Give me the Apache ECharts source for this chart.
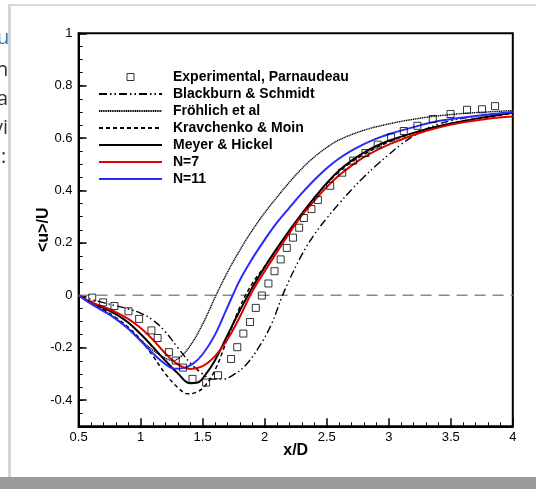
<!DOCTYPE html>
<html>
<head>
<meta charset="utf-8">
<script src="https://cdn.jsdelivr.net/npm/echarts@6/dist/echarts.min.js"></script>
<style>
html,body{margin:0;padding:0;background:#fff;}
#chart{width:536px;height:489px;}
</style>
</head>
<body>
<div id="chart"></div>
<script>
// ---- data (x/D, <u>/U) ----
const xTicks = [0.5, 1, 1.5, 2, 2.5, 3, 3.5, 4];
const yTicks = [-0.4, -0.2, 0, 0.2, 0.4, 0.6, 0.8, 1];

const experimental = [
  [0.61,-0.009],[0.698,-0.027],[0.789,-0.041],[0.902,-0.061],[0.988,-0.090],[1.087,-0.134],
  [1.137,-0.163],[1.228,-0.217],[1.283,-0.249],[1.341,-0.276],[1.418,-0.319],[1.528,-0.333],
  [1.624,-0.305],[1.729,-0.243],[1.779,-0.198],[1.828,-0.146],[1.881,-0.102],[1.928,-0.048],
  [1.977,-0.001],[2.030,0.045],[2.079,0.092],[2.129,0.137],[2.178,0.181],[2.228,0.220],
  [2.278,0.258],[2.316,0.295],[2.377,0.329],[2.429,0.364],[2.528,0.418],[2.625,0.468],
  [2.713,0.514],[2.812,0.543],[2.911,0.575],[3.019,0.603],[3.121,0.627],[3.231,0.647],
  [3.355,0.673],[3.498,0.692],[3.631,0.708],[3.752,0.710],[3.857,0.722]
];

const blackburn = [
  [0.5,0],[0.6,-0.015],[0.7,-0.028],[0.8,-0.040],[0.9,-0.052],[1.0,-0.068],[1.1,-0.095],
  [1.2,-0.140],[1.3,-0.200],[1.4,-0.258],[1.5,-0.300],[1.58,-0.320],[1.66,-0.320],
  [1.75,-0.303],[1.85,-0.265],[1.95,-0.200],[2.05,-0.115],[2.14,-0.005],[2.2,0.060],
  [2.3,0.155],[2.4,0.232],[2.5,0.294],[2.6,0.350],[2.7,0.403],[2.8,0.452],[2.9,0.496],
  [3.0,0.537],[3.1,0.576],[3.2,0.608],[3.3,0.634],[3.4,0.653],[3.5,0.666],[3.6,0.676],
  [3.8,0.689],[4.0,0.700]
];

const frohlich = [
  [0.5,0],[0.6,-0.030],[0.7,-0.057],[0.8,-0.090],[0.9,-0.127],[1.0,-0.170],[1.1,-0.210],
  [1.2,-0.240],[1.26,-0.249],[1.32,-0.235],[1.4,-0.192],[1.5,-0.110],[1.6,-0.008],
  [1.7,0.088],[1.8,0.172],[1.9,0.248],[2.0,0.315],[2.1,0.375],[2.2,0.432],[2.3,0.484],
  [2.4,0.528],[2.5,0.564],[2.6,0.593],[2.8,0.630],[3.0,0.654],[3.2,0.672],[3.4,0.685],
  [3.6,0.694],[3.8,0.700],[4.0,0.705]
];

const kravchenko = [
  [0.5,0],[0.6,-0.030],[0.7,-0.055],[0.8,-0.085],[0.9,-0.122],[1.0,-0.170],[1.1,-0.232],
  [1.2,-0.300],[1.3,-0.352],[1.38,-0.376],[1.45,-0.370],[1.52,-0.345],[1.6,-0.285],
  [1.7,-0.165],[1.8,-0.045],[1.9,0.045],[2.0,0.110],[2.2,0.245],[2.4,0.370],
  [2.6,0.472],[2.8,0.538],[3.0,0.585],[3.2,0.620],[3.4,0.645],[3.6,0.665],[3.8,0.680],[4.0,0.695]
];

const meyer = [
  [0.5,0],[0.6,-0.028],[0.7,-0.048],[0.8,-0.072],[0.9,-0.104],[1.0,-0.148],[1.1,-0.198],
  [1.2,-0.250],[1.3,-0.298],[1.4,-0.336],[1.46,-0.333],[1.52,-0.305],[1.6,-0.248],
  [1.7,-0.152],[1.8,-0.058],[1.9,0.030],[2.0,0.108],[2.1,0.180],[2.2,0.248],
  [2.3,0.312],[2.4,0.372],[2.5,0.428],[2.6,0.476],[2.7,0.514],[2.8,0.545],[2.9,0.570],
  [3.0,0.590],[3.2,0.620],[3.4,0.645],[3.6,0.665],[3.8,0.682],[4.0,0.697]
];

const n7 = [
  [0.5,0],[0.6,-0.026],[0.7,-0.044],[0.8,-0.064],[0.9,-0.090],[1.0,-0.125],[1.1,-0.170],
  [1.2,-0.222],[1.3,-0.264],[1.4,-0.281],[1.5,-0.270],[1.6,-0.232],[1.7,-0.168],
  [1.8,-0.082],[1.9,0.015],[2.0,0.092],[2.1,0.165],[2.2,0.238],[2.3,0.305],[2.4,0.361],
  [2.5,0.413],[2.6,0.458],[2.7,0.495],[2.8,0.527],[2.9,0.553],[3.0,0.575],[3.2,0.612],
  [3.4,0.640],[3.6,0.660],[3.8,0.674],[4.0,0.682]
];

const n11 = [
  [0.5,0],[0.6,-0.033],[0.7,-0.060],[0.8,-0.090],[0.9,-0.128],[1.0,-0.174],[1.1,-0.222],
  [1.2,-0.263],[1.27,-0.280],[1.34,-0.278],[1.42,-0.262],[1.5,-0.225],[1.6,-0.150],
  [1.7,-0.045],[1.8,0.058],[1.9,0.140],[2.0,0.212],[2.1,0.278],[2.2,0.335],
  [2.3,0.390],[2.4,0.440],[2.5,0.485],[2.6,0.522],[2.7,0.552],[2.8,0.577],[2.9,0.598],
  [3.0,0.615],[3.2,0.642],[3.4,0.665],[3.6,0.679],[3.8,0.690],[4.0,0.700]
];

const zeroRef = [[0.5,0],[4,0]];

const names = ['Experimental, Parnaudeau','Blackburn & Schmidt','Fröhlich et al',
  'Kravchenko & Moin','Meyer & Hickel','N=7','N=11'];

const chart = echarts.init(document.getElementById('chart'), null, {renderer:'canvas'});
const FONT = '"Liberation Sans", Arial, Helvetica, sans-serif';

const lineSeries = (name, data, color, width, type, smooth) => ({
  name, type:'line', data, symbol:'none', showSymbol:false,
  smooth: smooth,
  lineStyle:{color, width, type}, itemStyle:{color},
  z: 3, animation:false
});

const hiddenDot = {opacity:0};

const option = {
  backgroundColor:'#fff',
  animation:false,
  textStyle:{fontFamily:FONT},
  grid:{left:78.6, right:23.2, top:33.3, bottom:62.7, show:true, borderColor:'#000', borderWidth:2, backgroundColor:'transparent'},
  legend:{
    data:[{name:names[0], icon:'path://M0,0L10,0L10,10L0,10Z', itemStyle:{color:'rgba(0,0,0,0)', borderColor:'#000', borderWidth:1}},
      {name:names[1], itemStyle:hiddenDot},{name:names[2], itemStyle:hiddenDot},
      {name:names[3], itemStyle:hiddenDot},{name:names[4], itemStyle:hiddenDot},
      {name:names[5], itemStyle:hiddenDot},{name:names[6], itemStyle:hiddenDot}],
    orient:'vertical', left:98, top:70, padding:0,
    itemWidth:63, itemHeight:7, itemGap:3, symbolKeepAspect:true,
    selectedMode:false,
    textStyle:{fontFamily:FONT, fontWeight:'bold', fontSize:14, color:'#000', padding:[0,0,0,6]}
  },
  xAxis:{
    type:'value', min:0.5, max:4, interval:0.5,
    name:'x/D', nameLocation:'middle', nameGap:16, nameMoveOverlap:false,
    nameTextStyle:{fontFamily:FONT, fontWeight:'bold', fontSize:16, color:'#000'},
    axisLine:{show:true, onZero:false, lineStyle:{color:'#000', width:2}},
    axisTick:{show:true, inside:true, length:8, lineStyle:{color:'#000', width:1.5}},
    minorTick:{show:true, splitNumber:5, length:4, lineStyle:{color:'#000', width:1}},
    axisLabel:{fontFamily:FONT, fontSize:13, color:'#000', margin:5, customValues:xTicks,
      formatter:v=>String(v)},
    splitLine:{show:false}, minorSplitLine:{show:false}
  },
  yAxis:[{
    type:'value', min:-0.5, max:1, interval:0.1,
    name:'<u>/U', nameLocation:'middle', nameGap:27, nameRotate:90, nameMoveOverlap:false,
    nameTextStyle:{fontFamily:FONT, fontWeight:'bold', fontSize:16, color:'#000'},
    axisLine:{show:true, onZero:false, lineStyle:{color:'#000', width:2}},
    axisTick:{show:true, inside:true, length:8, customValues:yTicks, lineStyle:{color:'#000', width:1.5}},
    axisLabel:{fontFamily:FONT, fontSize:13, color:'#000', margin:6, customValues:yTicks,
      formatter:v=>String(Math.round(v*10)/10)},
    splitLine:{show:false}
  },{
    type:'value', min:-0.5, max:1, interval:0.05, position:'left',
    axisLine:{show:false}, axisLabel:{show:false}, splitLine:{show:false},
    axisTick:{show:true, inside:true, length:4, lineStyle:{color:'#000', width:1}}
  }],
  graphic:[
    {type:'rect', shape:{x:0,y:477,width:536,height:12}, style:{fill:'#9b9b9b'}, z:100},
    {type:'rect', shape:{x:8,y:4,width:528,height:2}, style:{fill:'#d9d9d9'}, z:-1},
    {type:'rect', shape:{x:8,y:4,width:3,height:473}, style:{fill:'#d4d4d4'}, z:-1},
    {type:'text', x:-3, y:28, style:{text:'u', fill:'#2e75b6', font:'20px "Open Sans", sans-serif'}, z:-2},
    {type:'text', x:-4, y:60, style:{text:'n', fill:'#333', font:'20px "Open Sans", sans-serif'}, z:-2},
    {type:'text', x:-3, y:89, style:{text:'a', fill:'#333', font:'20px "Open Sans", sans-serif'}, z:-2},
    {type:'text', x:-7, y:118, style:{text:'vi', fill:'#333', font:'20px "Open Sans", sans-serif'}, z:-2},
    {type:'text', x:1, y:147, style:{text:':', fill:'#333', font:'20px "Open Sans", sans-serif'}, z:-2},
    {type:'rect', shape:{x:11,y:6,width:525,height:471}, style:{fill:'#fff'}, z:-1.5}
  ],
  series:[
    {name:'zero', type:'line', data:zeroRef, symbol:'none', silent:true,
      lineStyle:{color:'#8a8a8a', width:1.5, type:[11,7]}, z:1, animation:false},
    {name:names[0], type:'scatter', data:experimental, symbol:'rect', symbolSize:7,
      itemStyle:{color:'rgba(0,0,0,0)', borderColor:'#000', borderWidth:1}, z:5, animation:false},
    lineSeries(names[1], blackburn, '#000', 1.4, [8,3,1.5,3,1.5,3], 0.4),
    lineSeries(names[2], frohlich, '#000', 1.4, [1.2,0.6], 0.4),
    lineSeries(names[3], kravchenko, '#000', 1.5, [4,3], 0.4),
    lineSeries(names[4], meyer, '#000', 2, 'solid', 0.4),
    lineSeries(names[5], n7, '#e00000', 2, 'solid', 0.4),
    lineSeries(names[6], n11, '#2a2aff', 2, 'solid', 0.4)
  ]
};
chart.setOption(option);
</script>
</body>
</html>
